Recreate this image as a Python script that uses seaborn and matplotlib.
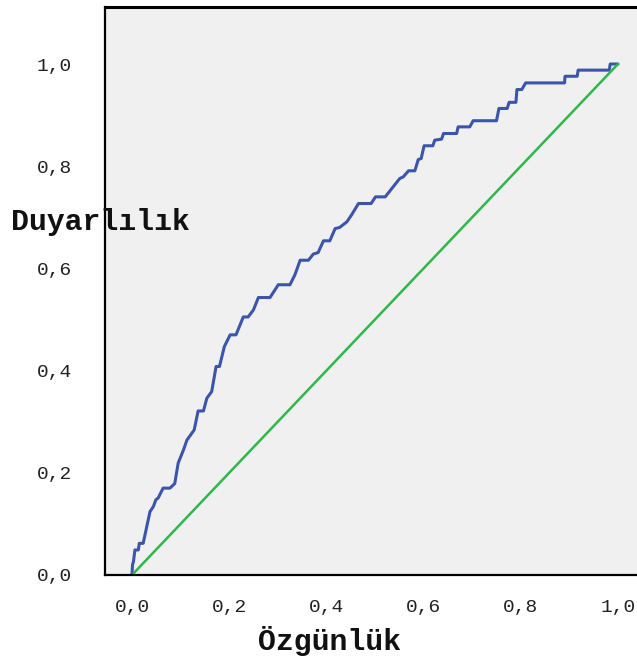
import matplotlib
matplotlib.use("Agg")
import matplotlib.pyplot as plt
import seaborn as sns
import pandas as pd

# ROC curve coordinates: 1 - specificity (x) and sensitivity (y)
fpr = [0.000, 0.001, 0.003, 0.006, 0.013, 0.015, 0.023, 0.037, 0.044, 0.049,
       0.054, 0.064, 0.078, 0.088, 0.095, 0.106, 0.113, 0.128, 0.136, 0.147,
       0.154, 0.164, 0.173, 0.180, 0.190, 0.202, 0.214, 0.229, 0.239, 0.250,
       0.260, 0.284, 0.301, 0.325, 0.335, 0.346, 0.363, 0.373, 0.383, 0.394,
       0.407, 0.418, 0.427, 0.442, 0.452, 0.466, 0.492, 0.501, 0.521, 0.531,
       0.551, 0.558, 0.569, 0.582, 0.589, 0.595, 0.601, 0.619, 0.623, 0.637,
       0.641, 0.668, 0.671, 0.695, 0.702, 0.750, 0.755, 0.772, 0.776, 0.790,
       0.792, 0.802, 0.810, 0.890, 0.891, 0.916, 0.918, 0.982, 0.984, 1.000]
tpr = [0.000, 0.020, 0.026, 0.049, 0.049, 0.062, 0.062, 0.124, 0.134, 0.147,
       0.151, 0.170, 0.170, 0.179, 0.219, 0.245, 0.264, 0.284, 0.321, 0.321,
       0.346, 0.359, 0.408, 0.408, 0.447, 0.470, 0.470, 0.505, 0.505, 0.519,
       0.543, 0.543, 0.568, 0.568, 0.587, 0.616, 0.616, 0.628, 0.631, 0.654,
       0.654, 0.678, 0.680, 0.691, 0.705, 0.727, 0.727, 0.740, 0.740, 0.752,
       0.776, 0.779, 0.791, 0.791, 0.813, 0.815, 0.840, 0.840, 0.851, 0.853,
       0.864, 0.864, 0.877, 0.877, 0.889, 0.889, 0.913, 0.913, 0.925, 0.925,
       0.950, 0.950, 0.963, 0.963, 0.976, 0.976, 0.988, 0.988, 1.000, 1.000]

# Chance reference line
ref_x = [0.0, 1.0]
ref_y = [0.0, 1.0]

tick_values = [0.0, 0.2, 0.4, 0.6, 0.8, 1.0]
tick_labels = ["0,0", "0,2", "0,4", "0,6", "0,8", "1,0"]

sns.set_theme(style="white")
plt.rcParams["font.family"] = ["Liberation Mono", "DejaVu Sans Mono"]

fig = plt.figure(figsize=(6.37, 6.62), dpi=100)
W, H = 637, 662
left_px, right_px, top_px, bottom_px = 105, 645, 7, 575
ax = fig.add_axes([left_px / W, 1 - bottom_px / H,
                   (right_px - left_px) / W, (bottom_px - top_px) / H])
ax.set_facecolor("#F0F0F0")

curve = pd.DataFrame({"x": fpr, "y": tpr})
ref = pd.DataFrame({"x": ref_x, "y": ref_y})
sns.lineplot(data=curve, x="x", y="y", sort=False, estimator=None,
             color="#3B55AA", linewidth=2.2, ax=ax)
sns.lineplot(data=ref, x="x", y="y", sort=False, estimator=None,
             color="#2EB84A", linewidth=1.8, ax=ax)

x0 = (left_px - 132) / 486
x1 = (right_px - 132) / 486
ax.set_xlim(x0, x1)
ax.set_ylim(0, (575 - top_px) / 511)

ax.set_xticks(tick_values)
ax.set_xticklabels(tick_labels)
ax.set_yticks(tick_values)
ax.set_yticklabels(tick_labels)
ax.tick_params(axis="both", direction="out", length=9, width=1.6,
               color="black", labelsize=14, labelcolor="#222222")
ax.tick_params(axis="y", pad=15)
ax.tick_params(axis="x", pad=8)
ax.set_xlabel("")
ax.set_ylabel("")

for side in ["left", "bottom", "top"]:
    ax.spines[side].set_visible(True)
    ax.spines[side].set_color("black")
    ax.spines[side].set_linewidth(1.6)
ax.spines["top"].set_linewidth(2.2)
ax.spines["right"].set_visible(False)

fig.text(100 / W, 1 - 222 / H, "Duyarlılık", ha="center", va="center",
         fontsize=21.5, fontweight="bold", color="#111111")
fig.text(329 / W, 1 - 641 / H, "Özgünlük", ha="center", va="center",
         fontsize=21.5, fontweight="bold", color="#111111")

fig.savefig("out.png", dpi=100, facecolor="white")
